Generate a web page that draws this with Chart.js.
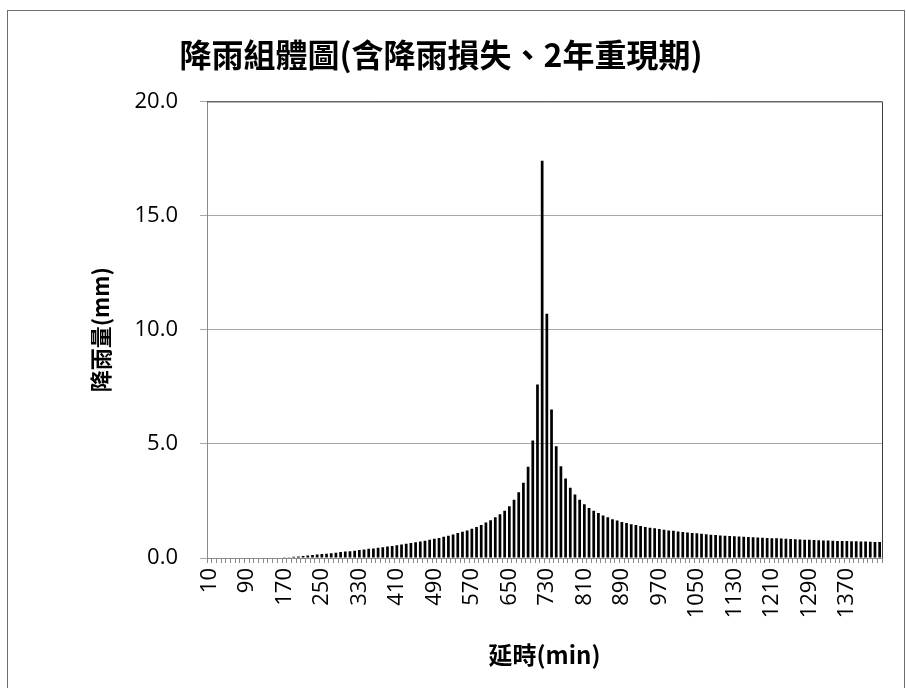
<!DOCTYPE html>
<html lang="zh-Hant">
<head>
<meta charset="utf-8">
<title>降雨組體圖</title>
<script src="https://cdn.jsdelivr.net/npm/chart.js@4.4.1/dist/chart.umd.min.js"></script>
<style>
  html, body { margin: 0; padding: 0; background: #fff; overflow: hidden; }
  #wrap { position: relative; width: 906px; height: 688px; }
  /* marco exterior del gráfico */
  #marco { position: absolute; left: 7px; top: 10px; width: 898px; height: 720px;
           border: 1px solid #6e6e6e; box-sizing: border-box; pointer-events: none; }
</style>
</head>
<body>
<div id="wrap">
  <canvas id="hietograma" width="906" height="688"></canvas>
  <div id="marco"></div>
</div>
<script>
// ── Datos ─────────────────────────────────────────────────────────────────────
const TITULO = '降雨組體圖(含降雨損失、2年重現期)';
const EJE_X = '延時(min)';
const EJE_Y = '降雨量(mm)';

// duración acumulada (min), un bloque cada 10 min
const MINUTOS = [
  10, 20, 30, 40, 50, 60, 70, 80,
  90, 100, 110, 120, 130, 140, 150, 160,
  170, 180, 190, 200, 210, 220, 230, 240,
  250, 260, 270, 280, 290, 300, 310, 320,
  330, 340, 350, 360, 370, 380, 390, 400,
  410, 420, 430, 440, 450, 460, 470, 480,
  490, 500, 510, 520, 530, 540, 550, 560,
  570, 580, 590, 600, 610, 620, 630, 640,
  650, 660, 670, 680, 690, 700, 710, 720,
  730, 740, 750, 760, 770, 780, 790, 800,
  810, 820, 830, 840, 850, 860, 870, 880,
  890, 900, 910, 920, 930, 940, 950, 960,
  970, 980, 990, 1000, 1010, 1020, 1030, 1040,
  1050, 1060, 1070, 1080, 1090, 1100, 1110, 1120,
  1130, 1140, 1150, 1160, 1170, 1180, 1190, 1200,
  1210, 1220, 1230, 1240, 1250, 1260, 1270, 1280,
  1290, 1300, 1310, 1320, 1330, 1340, 1350, 1360,
  1370, 1380, 1390, 1400, 1410, 1420, 1430, 1440,
];

// lluvia efectiva por bloque (mm)
const LLUVIA = [
  0, 0, 0, 0, 0, 0, 0, 0,
  0, 0, 0, 0, 0, 0, 0, 0,
  0.01, 0.03, 0.05, 0.07, 0.09, 0.11, 0.13, 0.15,
  0.17, 0.19, 0.21, 0.23, 0.26, 0.28, 0.30, 0.32,
  0.35, 0.37, 0.40, 0.42, 0.45, 0.47, 0.50, 0.53,
  0.56, 0.59, 0.62, 0.66, 0.69, 0.72, 0.76, 0.80,
  0.84, 0.88, 0.93, 0.98, 1.03, 1.09, 1.15, 1.21,
  1.28, 1.36, 1.45, 1.55, 1.65, 1.78, 1.92, 2.07,
  2.27, 2.55, 2.88, 3.30, 4.00, 5.15, 7.60, 17.40,
  10.70, 6.50, 4.90, 4.02, 3.48, 3.08, 2.78, 2.55,
  2.35, 2.19, 2.07, 1.97, 1.86, 1.78, 1.70, 1.64,
  1.58, 1.53, 1.48, 1.44, 1.40, 1.36, 1.33, 1.30,
  1.27, 1.24, 1.21, 1.19, 1.16, 1.14, 1.12, 1.10,
  1.08, 1.06, 1.04, 1.02, 1.01, 0.99, 0.98, 0.96,
  0.95, 0.94, 0.93, 0.92, 0.91, 0.90, 0.89, 0.88,
  0.87, 0.86, 0.85, 0.84, 0.83, 0.82, 0.81, 0.80,
  0.80, 0.79, 0.78, 0.77, 0.77, 0.76, 0.75, 0.75,
  0.74, 0.73, 0.73, 0.72, 0.72, 0.71, 0.70, 0.70,
];

const Y_TICKS = [0, 5, 10, 15, 20];
const CADA_ETIQUETA = 8; // una etiqueta cada 80 min

// ── Estilos ───────────────────────────────────────────────────────────────────
const FUENTE_CJK = "'Noto Sans CJK TC', 'Noto Sans CJK JP', sans-serif";
const FUENTE_NUM = "'Open Sans', 'DejaVu Sans', sans-serif";
const GRIS_EJE = '#8a8a8a';
const GRIS_GRILLA = '#a8a8a8';

// borde superior y derecho del área de trazado
const bordeArea = {
  id: 'bordeArea',
  afterDraw(chart) {
    const { ctx, chartArea: a } = chart;
    ctx.save();
    ctx.strokeStyle = '#3c3c3c';
    ctx.lineWidth = 1;
    ctx.beginPath();
    ctx.moveTo(a.left, a.top + 0.5);
    ctx.lineTo(a.right + 0.5, a.top + 0.5);
    ctx.lineTo(a.right + 0.5, a.bottom);
    ctx.stroke();
    ctx.restore();
  },
};

// ── Gráfica ───────────────────────────────────────────────────────────────────
const ctx = document.getElementById('hietograma');

new Chart(ctx, {
  type: 'bar',
  data: {
    labels: MINUTOS,
    datasets: [{
      data: LLUVIA,
      backgroundColor: '#000',
      borderWidth: 0,
      barPercentage: 0.58,
      categoryPercentage: 1.0,
    }],
  },
  options: {
    responsive: false,
    animation: false,
    devicePixelRatio: 1,
    layout: { padding: { left: 0, right: 24, top: 0, bottom: 0 } },
    plugins: {
      legend: { display: false },
      tooltip: { enabled: false },
      title: {
        display: true,
        text: TITULO,
        color: '#000',
        font: { family: FUENTE_CJK, size: 32, weight: 'bold' },
        padding: { top: 36, bottom: 27 },
      },
    },
    scales: {
      x: {
        grid: { drawOnChartArea: false, drawTicks: true, tickLength: 5, color: GRIS_EJE },
        border: { color: GRIS_EJE },
        ticks: {
          autoSkip: false,
          minRotation: 90,
          maxRotation: 90,
          padding: 5,
          color: '#000',
          font: { family: FUENTE_NUM, size: 22 },
          callback: (v, i) => (i % CADA_ETIQUETA === 0 ? String(MINUTOS[i]) : ''),
        },
        title: {
          display: true,
          text: EJE_X,
          color: '#000',
          font: { family: FUENTE_CJK, size: 24, weight: 'bold' },
          padding: { top: 0, bottom: 19 },
        },
        afterFit: s => { s.height = 130; s.paddingLeft = 0; s.paddingRight = 0; },
      },
      y: {
        min: 0,
        max: 20,
        afterBuildTicks: s => { s.ticks = Y_TICKS.map(v => ({ value: v })); },
        grid: { color: GRIS_GRILLA, tickLength: 7 },
        border: { color: GRIS_EJE },
        ticks: {
          padding: 22,
          color: '#000',
          font: { family: FUENTE_NUM, size: 22 },
          callback: v => Number(v).toFixed(1),
        },
        title: {
          display: true,
          text: EJE_Y,
          color: '#000',
          font: { family: FUENTE_CJK, size: 22, weight: 'bold' },
          padding: { top: 87, bottom: 0 },
        },
        afterFit: s => { s.width = 207; },
      },
    },
  },
  plugins: [bordeArea],
});
</script>
</body>
</html>
